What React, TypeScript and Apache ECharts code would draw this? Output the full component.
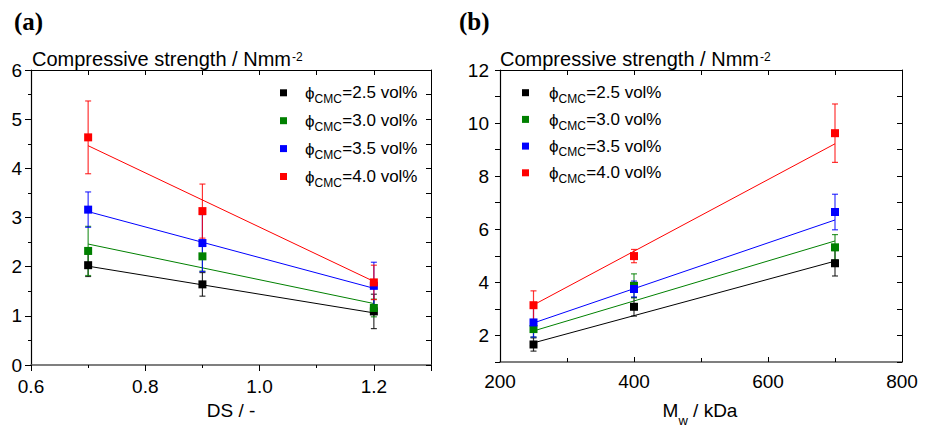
import React, { useEffect, useRef } from 'react';
import * as echarts from 'echarts';

// ---------- Panel (a): compressive strength vs DS ----------
const dsValues = [0.7, 0.9, 1.2];
const dsStrength25 = [2.03, 1.64, 1.09];
const dsStrength30 = [2.32, 2.21, 1.16];
const dsStrength35 = [3.16, 2.48, 1.61];
const dsStrength40 = [4.63, 3.13, 1.68];
const dsError25 = [0.23, 0.24, 0.35];
const dsError30 = [0.5, 0.3, 0.18];
const dsError35 = [0.36, 0.58, 0.48];
const dsError40 = [0.74, 0.55, 0.35];
const dsFitX = [0.7, 1.2];
const dsFit25 = [2.01, 1.06];
const dsFit30 = [2.46, 1.25];
const dsFit35 = [3.12, 1.56];
const dsFit40 = [4.46, 1.7];

// ---------- Panel (b): compressive strength vs Mw ----------
const mwValues = [250, 400, 700];
const mwStrength25 = [1.66, 3.08, 4.72];
const mwStrength30 = [2.24, 3.87, 5.32];
const mwStrength35 = [2.49, 3.75, 6.65];
const mwStrength40 = [3.14, 4.99, 9.62];
const mwError25 = [0.25, 0.35, 0.48];
const mwError30 = [0.3, 0.45, 0.48];
const mwError35 = [0.55, 0.3, 0.67];
const mwError40 = [0.54, 0.25, 1.1];
const mwFitX = [250, 700];
const mwFit25 = [1.72, 4.8];
const mwFit30 = [2.17, 5.56];
const mwFit35 = [2.47, 6.35];
const mwFit40 = [3.15, 9.22];

const concentrations = ['2.5', '3.0', '3.5', '4.0'];
const seriesColors = ['#000000', '#008000', '#0000ff', '#ff0000'];
const titleText = 'Compressive strength / Nmm';
const titleSup = '-2';
const xNameA = 'DS / -';

const SANS = "'Liberation Sans', Arial, sans-serif";
const SERIF = "'Liberation Serif', 'Times New Roman', serif";

const measureCtx = document.createElement('canvas').getContext('2d') as CanvasRenderingContext2D;
function textWidth(text: string, size: number, family = SANS, weight = 'normal') {
  measureCtx.font = `${weight} ${size}px ${family}`;
  return measureCtx.measureText(text).width;
}

function txt(text: string, x: number, y: number, size: number, opts: any = {}) {
  const family = opts.family || SANS;
  const weight = opts.weight || 'normal';
  const align = opts.align || 'left';
  return {
    type: 'text',
    x,
    y,
    silent: true,
    style: {
      text,
      font: `${weight} ${size}px ${family}`,
      fill: opts.color || '#000',
      align,
      verticalAlign: 'middle',
      textAlign: align,
      textVerticalAlign: 'middle',
    },
  };
}

export default function App() {
  const ref = useRef<HTMLDivElement>(null);

  useEffect(() => {
    document.body.style.margin = '0';
    const chart = echarts.init(ref.current!, null, { renderer: 'svg' });

    const panels = [
      {
        x: dsValues,
        ys: [dsStrength25, dsStrength30, dsStrength35, dsStrength40],
        es: [dsError25, dsError30, dsError35, dsError40],
        fx: dsFitX,
        fits: [dsFit25, dsFit30, dsFit35, dsFit40],
        xAxisIndex: 0,
        yAxisIndex: 0,
      },
      {
        x: mwValues,
        ys: [mwStrength25, mwStrength30, mwStrength35, mwStrength40],
        es: [mwError25, mwError30, mwError35, mwError40],
        fx: mwFitX,
        fits: [mwFit25, mwFit30, mwFit35, mwFit40],
        xAxisIndex: 2,
        yAxisIndex: 2,
      },
    ];

    const series: any[] = [];
    panels.forEach((p, pi) => {
      // fit lines
      p.fits.forEach((f, i) => {
        series.push({
          type: 'line',
          name: `fit${pi}-${i}`,
          xAxisIndex: p.xAxisIndex,
          yAxisIndex: p.yAxisIndex,
          data: p.fx.map((xv, k) => [xv, f[k]]),
          showSymbol: false,
          symbol: 'none',
          lineStyle: { color: seriesColors[i], width: 1 },
          z: 2,
          silent: true,
        });
      });
      // error bars
      p.ys.forEach((ys, i) => {
        const color = seriesColors[i];
        series.push({
          type: 'custom',
          name: `err${pi}-${i}`,
          xAxisIndex: p.xAxisIndex,
          yAxisIndex: p.yAxisIndex,
          data: p.x.map((xv, k) => [xv, ys[k], p.es[i][k]]),
          encode: { x: 0, y: 1 },
          z: 3 + i,
          silent: true,
          renderItem: (params: any, api: any) => {
            const xv = api.value(0);
            const yv = api.value(1);
            const ev = api.value(2);
            const hi = api.coord([xv, yv + ev]);
            const lo = api.coord([xv, yv - ev]);
            const w = 3;
            const style = { stroke: color, lineWidth: 1.2, opacity: 0.8 };
            return {
              type: 'group',
              children: [
                { type: 'line', shape: { x1: hi[0], y1: hi[1], x2: lo[0], y2: lo[1] }, style },
                { type: 'line', shape: { x1: hi[0] - w, y1: hi[1], x2: hi[0] + w, y2: hi[1] }, style },
                { type: 'line', shape: { x1: lo[0] - w, y1: lo[1], x2: lo[0] + w, y2: lo[1] }, style },
              ],
            };
          },
        });
      });
      // markers
      p.ys.forEach((ys, i) => {
        series.push({
          type: 'scatter',
          name: `pts${pi}-${i}`,
          xAxisIndex: p.xAxisIndex,
          yAxisIndex: p.yAxisIndex,
          data: p.x.map((xv, k) => [xv, ys[k]]),
          symbol: 'rect',
          symbolSize: 8,
          itemStyle: { color: seriesColors[i], opacity: 1 },
          z: 10 + i,
          silent: true,
        });
      });
    });

    const labelStyle = { fontSize: 19, fontFamily: SANS, color: '#000' };
    const noSplit = { splitLine: { show: false }, minorSplitLine: { show: false } };

    const xAxis: any[] = [
      // (a) bottom
      {
        type: 'value', gridIndex: 0, position: 'bottom', min: 0.6, max: 1.3, interval: 0.2,
        axisLine: { show: true, onZero: false, lineStyle: { color: '#555', width: 1.5 } },
        axisTick: { show: true, inside: false, length: 6, lineStyle: { color: '#000', width: 1 } },
        minorTick: { show: true, splitNumber: 2, length: 3, lineStyle: { color: '#000', width: 1 } },
        axisLabel: {
          ...labelStyle, margin: 12,
          formatter: (v: number) => (Math.abs(v - 1.3) < 1e-6 ? '' : v.toFixed(1)),
        },
        name: xNameA, nameLocation: 'middle', nameGap: 35,
        nameTextStyle: { fontSize: 19, fontFamily: SANS, color: '#000' },
        ...noSplit,
      },
      // (a) top
      {
        type: 'value', gridIndex: 0, position: 'top', min: 0.6, max: 1.3, interval: 0.1,
        axisLine: { show: true, onZero: false, lineStyle: { color: '#000', width: 1 } },
        axisTick: { show: true, inside: true, length: 5, lineStyle: { color: '#000' } },
        axisLabel: { show: false },
        ...noSplit,
      },
      // (b) bottom
      {
        type: 'value', gridIndex: 1, position: 'bottom', min: 200, max: 800, interval: 200,
        axisLine: { show: true, onZero: false, lineStyle: { color: '#555', width: 1.5 } },
        axisTick: { show: true, inside: true, length: 5, lineStyle: { color: '#000', width: 1 } },
        minorTick: { show: true, splitNumber: 2, length: 4, lineStyle: { color: '#000', width: 1 } },
        axisLabel: { ...labelStyle, margin: 10 },
        ...noSplit,
      },
      // (b) top
      {
        type: 'value', gridIndex: 1, position: 'top', min: 200, max: 800, interval: 100,
        axisLine: { show: true, onZero: false, lineStyle: { color: '#000', width: 1 } },
        axisTick: { show: true, inside: true, length: 5, lineStyle: { color: '#000' } },
        axisLabel: { show: false },
        ...noSplit,
      },
    ];

    const yAxis: any[] = [
      // (a) left
      {
        type: 'value', gridIndex: 0, position: 'left', min: 0, max: 6, interval: 1,
        axisLine: { show: true, onZero: false, lineStyle: { color: '#000', width: 1.2 } },
        axisTick: { show: true, inside: false, length: 6, lineStyle: { color: '#000' } },
        minorTick: { show: true, splitNumber: 2, length: 3, lineStyle: { color: '#000' } },
        axisLabel: { ...labelStyle, margin: 9 },
        ...noSplit,
      },
      // (a) right
      {
        type: 'value', gridIndex: 0, position: 'right', min: 0, max: 6, interval: 0.5,
        axisLine: { show: true, onZero: false, lineStyle: { color: '#000', width: 1 } },
        axisTick: { show: true, inside: true, length: 5, lineStyle: { color: '#000' } },
        axisLabel: { show: false },
        ...noSplit,
      },
      // (b) left
      {
        type: 'value', gridIndex: 1, position: 'left', min: 1, max: 12, interval: 1,
        axisLine: { show: true, onZero: false, lineStyle: { color: '#000', width: 1.2 } },
        axisTick: { show: true, inside: false, length: 5, lineStyle: { color: '#000' } },
        axisLabel: {
          ...labelStyle, margin: 11,
          formatter: (v: number) => (Math.round(v) % 2 === 0 ? String(v) : ''),
        },
        ...noSplit,
      },
      // (b) right
      {
        type: 'value', gridIndex: 1, position: 'right', min: 1, max: 12, interval: 1,
        axisLine: { show: true, onZero: false, lineStyle: { color: '#000', width: 1 } },
        axisTick: { show: true, inside: true, length: 5, lineStyle: { color: '#000' } },
        axisLabel: { show: false },
        ...noSplit,
      },
    ];

    // ----- graphic: panel tags, titles, legends, Mw axis name -----
    const graphic: any[] = [];
    graphic.push(txt('(a)', 14, 21, 25, { family: SERIF, weight: 'bold' }));
    graphic.push(txt('(b)', 459, 21, 25, { family: SERIF, weight: 'bold' }));

    const titleSize = 20;
    const tW = textWidth(titleText, titleSize);
    [32, 500].forEach((tx) => {
      graphic.push(txt(titleText, tx, 59, titleSize));
      graphic.push(txt(titleSup, tx + tW + 1, 56.5, 12));
    });

    const legendSize = 17;
    const subSize = 12;
    const phi = 'ϕ';
    const legends = [
      { mx: 283.5, tx: 305, y0: 92.8, dy: 27.9 },
      { mx: 525.5, tx: 549, y0: 92.7, dy: 26.7 },
    ];
    legends.forEach((lg) => {
      concentrations.forEach((c, i) => {
        const y = lg.y0 + i * lg.dy;
        graphic.push({
          type: 'rect', silent: true,
          shape: { x: lg.mx - 3.5, y: y - 3.5, width: 7, height: 7 },
          style: { fill: seriesColors[i] },
        });
        let x = lg.tx;
        graphic.push(txt(phi, x, y + 0.8, legendSize));
        x += textWidth(phi, legendSize);
        graphic.push(txt('CMC', x, y + 6.2, subSize));
        x += textWidth('CMC', subSize) + 0.5;
        graphic.push(txt(`=${c} vol%`, x, y, legendSize));
      });
    });

    // Mw / kDa axis name (b)
    const nameSize = 19;
    const nSub = 13;
    const wM = textWidth('M', nameSize);
    const wW = textWidth('w', nSub);
    const wRest = textWidth(' / kDa', nameSize);
    const total = wM + wW + wRest;
    const cx = 700;
    let nx = cx - total / 2;
    graphic.push(txt('M', nx, 410.5, nameSize));
    nx += wM;
    graphic.push(txt('w', nx, 420.5, nSub));
    nx += wW;
    graphic.push(txt(' / kDa', nx, 410.5, nameSize));

    chart.setOption({
      animation: false,
      backgroundColor: '#ffffff',
      grid: [
        { left: 31, top: 70, width: 400, height: 295, containLabel: false },
        { left: 500, top: 70, width: 402, height: 292, containLabel: false },
      ],
      xAxis,
      yAxis,
      series,
      graphic,
    });

    return () => {
      chart.dispose();
    };
  }, []);

  return (
    <div
      ref={ref}
      style={{ position: 'fixed', left: 0, top: 0, width: 930, height: 427, background: '#fff' }}
    />
  );
}
